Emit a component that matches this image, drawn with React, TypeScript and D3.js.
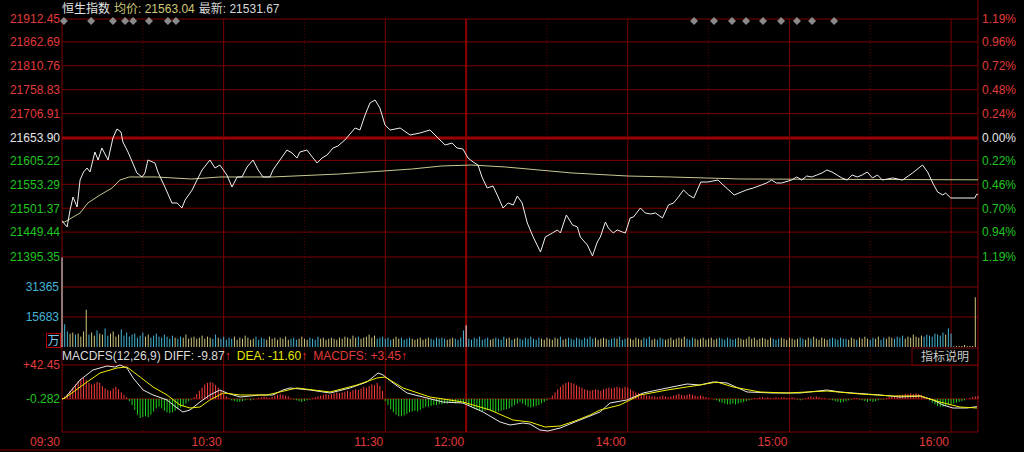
import React from 'react';
import * as d3 from 'd3';

const W = 1024;
const H = 452;

// ---------- axis labels ----------
const priceLabels = [21912.45, 21862.69, 21810.76, 21758.83, 21706.91, 21653.90, 21605.22, 21553.29, 21501.37, 21449.44, 21395.35];
const pctLabels = ['1.19%', '0.96%', '0.72%', '0.48%', '0.24%', '0.00%', '0.22%', '0.46%', '0.70%', '0.94%', '1.19%'];
const prevClose = 21653.90;
const volumeTicks = [31365, 15683];
const macdTicks = [42.45, -0.282];
const macdTickLabels = ['+42.45', '-0.282'];
const timeTicks = [0, 60, 120, 150, 210, 270, 330];
const timeLabels = ['09:30', '10:30', '11:30', '12:00', '14:00', '15:00', '16:00'];
const dottedTicks = [30, 90, 180, 240, 300];
const markerMinutes = [0.7, 10.8, 18.9, 23.4, 26.4, 32.3, 39.3, 42.3, 234.6, 242.0, 248.7, 253.9, 260.2, 266.9, 272.8, 278.4, 286.6];

// ---------- price (minute index from 09:30, 340 = 16:10) ----------
const priceMinutes = [
  0, 1.9, 3, 4.1, 5.6, 6.7, 8, 9.3, 10.4, 12.2, 13.4, 14.8, 17.1, 18.9, 20.4, 21.9, 22.6, 24.5, 27.8, 29.7,
  30.8, 31.9, 34.5, 35.6, 38.2, 40.8, 42.7, 44.5, 45.7, 48.3, 50.1, 52.0, 54.9, 56.8, 58.6, 61.2, 63.1, 65.0, 66.8, 68.7,
  70.9, 72.8, 74.6, 77.2, 78.3, 80.9, 83.5, 85.4, 87.2, 88.3, 90.9, 93.2, 94.7, 96.5, 98.4, 100.6, 102.4, 105.0, 108.8, 110.6,
  112.5, 114.3, 116.2, 118.0, 119.9, 121.8, 125.5, 129.2, 132.9, 136.6, 140.3, 142.2, 144.8, 146.6, 148.8, 150.7, 152.6, 154.4, 155.9, 157.8,
  160.0, 161.9, 163.7, 165.6, 167.5, 169.0, 170.8, 172.7, 174.9, 177.6, 179.4, 182.0, 183.9, 185.0, 187.2, 189.5, 191.3, 192.4, 195.0, 196.9,
  198.7, 199.8, 201.7, 202.8, 204.6, 206.1, 208.0, 209.1, 210.9, 212.1, 214.7, 216.5, 218.4, 220.3, 222.9, 225.1, 227.0, 228.8, 230.7, 232.6,
  234.5, 237.1, 239.7, 243.5, 245.4, 249.5, 252.2, 254.0, 256.6, 259.6, 261.5, 263.4, 265.2, 267.1, 270.8, 272.7, 274.6, 276.4, 278.3, 280.2,
  282.1, 283.9, 285.8, 287.7, 289.5, 291.4, 293.3, 295.2, 297.0, 298.9, 300.8, 302.7, 304.5, 308.3, 312.0, 315.7, 319.4, 321.3, 323.2, 325.0,
  326.9, 328.0, 329.9, 338.8, 339.5, 340
];
const priceValues = [
  21473.6, 21460.6, 21497.5, 21525.7, 21504.0, 21562.6, 21580.0, 21588.7, 21580.0, 21623.5, 21606.1, 21632.2, 21606.1, 21653.9, 21673.5, 21666.9, 21645.2, 21623.5, 21577.9, 21569.2,
  21577.9, 21606.1, 21599.6, 21580.0, 21547.4, 21512.7, 21512.7, 21501.8, 21519.2, 21540.9, 21562.6, 21584.4, 21606.1, 21588.7, 21595.2, 21573.5, 21547.4, 21569.2, 21569.2, 21590.9,
  21606.1, 21584.4, 21569.2, 21569.2, 21584.4, 21606.1, 21627.8, 21621.3, 21610.4, 21623.5, 21627.8, 21610.4, 21599.6, 21610.4, 21617.0, 21632.2, 21636.5, 21649.6, 21675.6, 21671.3,
  21703.9, 21729.9, 21736.5, 21719.1, 21682.1, 21671.3, 21675.6, 21660.4, 21664.8, 21671.3, 21649.6, 21638.7, 21643.0, 21632.2, 21630.0, 21610.4, 21601.8, 21595.2, 21569.2, 21545.3,
  21549.6, 21525.7, 21501.8, 21512.7, 21508.3, 21527.9, 21512.7, 21469.3, 21438.8, 21406.2, 21438.8, 21447.5, 21454.1, 21447.5, 21486.6, 21464.9, 21460.6, 21438.8, 21421.5, 21397.6,
  21428.0, 21438.8, 21471.4, 21458.4, 21447.5, 21454.1, 21449.7, 21447.5, 21480.1, 21482.3, 21501.8, 21491.0, 21488.8, 21491.0, 21480.1, 21508.3, 21512.7, 21525.7, 21540.9, 21530.1,
  21523.5, 21558.3, 21558.3, 21562.6, 21551.8, 21530.1, 21536.6, 21540.9, 21545.3, 21551.8, 21556.1, 21562.6, 21556.1, 21556.1, 21562.6, 21569.2, 21562.6, 21571.3, 21569.2, 21573.5,
  21577.9, 21584.4, 21580.0, 21573.5, 21567.0, 21562.6, 21573.5, 21569.2, 21573.5, 21580.0, 21567.0, 21573.5, 21562.6, 21567.0, 21562.6, 21577.9, 21595.2, 21580.0, 21556.1, 21536.6,
  21530.1, 21534.4, 21523.5, 21523.5, 21531.67, 21531.67
];

// ---------- average price ----------
const avgMinutes = [0, 1, 6.7, 9.6, 14.1, 18.6, 21.5, 25, 35, 48, 58.6, 78, 103, 130, 141, 152, 164.6, 177, 189.3, 210, 226, 239, 252, 340];
const avgValues = [21471.4, 21471.4, 21491.0, 21512.7, 21530.1, 21545.3, 21562.6, 21569.2, 21569.2, 21564.8, 21569.2, 21569.2, 21575.7, 21586.6, 21593.1, 21595.2, 21590.9, 21584.4, 21577.9, 21571.3, 21569.2, 21567.0, 21564.8, 21563.04];

// ---------- volume per minute (万) ----------
const volumes = [
  46800,
  11900, 8110, 7030, 7570, 6490, 7030, 5410, 8110, 19480, 6490,
  7570, 5950, 8660, 7030, 6490, 9740, 5950, 7030, 8110, 5410,
  6490, 9200, 5950, 7570, 5410, 6490, 7030, 4870, 5950, 7570,
  5410, 6490, 4870, 5950, 7030, 5410, 4870, 6490, 5410, 4330,
  5950, 4870, 4330, 5410, 4870, 6490, 4330, 4870, 5410, 4330,
  4870, 5950, 4330, 5410, 4870, 4330, 6490, 4870, 4330, 5410,
  3790, 4870, 4330, 5410, 3790, 4870, 4330, 5950, 4870, 3790,
  4330, 5410, 3790, 4870, 4330, 3790, 5410, 4330, 4870, 3790,
  4870, 4330, 5410, 3790, 4330, 4870, 3790, 4330, 5410, 4330,
  3790, 4870, 4330, 3790, 5410, 4330, 4870, 3790, 4330, 4870,
  4330, 3790, 4870, 4330, 5410, 4870, 4330, 5950, 4870, 5410,
  4330, 4870, 5410, 6490, 4870, 5950, 4330, 4870, 5410, 4330,
  4870, 3790, 4330, 5410, 4330, 4870, 3790, 4330, 4870, 4330,
  3790, 4330, 4870, 3790, 4330, 4870, 4330, 3790, 4870, 4330,
  4870, 4330, 3790, 4330, 4870, 4330, 3790, 4870, 8660, 11360,
  4330, 3790, 4870, 4330, 5410, 3790, 4330, 4870, 3790, 4330,
  4870, 4330, 3790, 5410, 4330, 4870, 3790, 4330, 4870, 4330,
  3790, 4870, 4330, 5410, 4330, 3790, 4870, 4330, 3790, 4870,
  4330, 3790, 4870, 4330, 5410, 3790, 4330, 4870, 4330, 3790,
  4870, 4330, 3790, 4870, 4330, 5410, 4330, 4870, 3790, 4330,
  4870, 4330, 3790, 4330, 4870, 4330, 5410, 3790, 4330, 4870,
  4330, 3790, 4870, 4330, 3790, 4870, 4330, 5410, 3790, 4330,
  3790, 4870, 4330, 3790, 4330, 4870, 3790, 4330, 4870, 4330,
  5410, 4330, 3790, 4870, 4330, 3790, 4330, 4870, 3790, 4330,
  4870, 3790, 4330, 4870, 4330, 3790, 4870, 4330, 3790, 4330,
  4870, 4330, 3790, 4330, 5410, 4330, 4870, 3790, 4330, 4870,
  4330, 3790, 4870, 4330, 3790, 4330, 4870, 4330, 3790, 4870,
  4330, 3790, 4330, 4870, 4330, 3790, 4870, 4330, 5410, 4330,
  3790, 4870, 4330, 3790, 4330, 4870, 4330, 3790, 4870, 4330,
  4330, 3790, 4870, 4330, 3790, 4870, 4330, 5410, 4330, 3790,
  4870, 4330, 5410, 3790, 4870, 4330, 5410, 4870, 4330, 5410,
  4870, 5950, 4330, 5410, 4870, 6490, 5410, 4870, 5950, 5410,
  6490, 5950, 5410, 7030, 6490, 5950, 7570, 6490, 9740, 7030,
  540, 540, 540, 540, 1080, 540, 540, 540, 25970, 0
];

// ---------- MACD ----------
const diffMinutes = [0, 1.1, 6.7, 11.5, 16.7, 19.7, 21.5, 24.1, 26.4, 30.1, 33.8, 39.0, 42.7, 44.9, 47.5, 51.2, 54.9, 58.6, 61.2, 66.1, 73.5, 78.3, 82.0, 84.6, 92.1, 99.5, 106.9, 113.2, 117.3, 119.2, 122.9, 128.1, 134.0, 141.4, 148.8, 156.3, 162.6, 166.3, 171.1, 173.7, 177.4, 180.4, 184.9, 190.4, 196.0, 199.7, 203.4, 209.7, 215.7, 224.6, 232.0, 236.8, 241.6, 246.8, 254.3, 263.9, 273.9, 284.0, 288.8, 293.6, 303.6, 311.1, 318.5, 323.3, 327.0, 330.7, 335.9, 339.6];
const diffValues = [-0.28, 0.97, 23.60, 36.17, 41.20, 39.94, 42.45, 38.69, 26.12, 11.03, 4.75, -1.54, -11.59, -16.62, -14.11, -4.05, 4.75, 11.03, 7.26, 2.23, 4.75, 4.75, 11.03, 13.55, 11.03, 7.26, 13.55, 21.09, 32.40, 29.88, 19.83, 7.26, 2.23, -4.05, -5.31, -16.62, -29.19, -32.96, -30.45, -31.71, -39.25, -40.51, -36.74, -29.19, -21.65, -16.62, -5.31, -1.54, 7.26, 13.55, 18.57, 17.32, 21.09, 19.83, 8.52, 7.26, 7.26, 11.03, 8.52, 7.26, 4.75, 2.23, 3.49, -1.54, -7.82, -11.59, -11.59, -9.87];
const deaMinutes = [0, 1.1, 9.3, 14.1, 20.4, 24.1, 29.0, 33.8, 39.0, 43.8, 47.5, 51.2, 54.9, 59.8, 66.1, 76.1, 87.2, 99.5, 109.5, 116.9, 119.9, 126.6, 136.6, 148.8, 158.9, 167.4, 173.7, 179.3, 184.9, 190.4, 196.0, 199.7, 207.1, 214.6, 224.6, 236.8, 243.1, 249.1, 259.1, 269.1, 284.0, 296.2, 308.5, 318.5, 325.9, 333.3, 339.6];
const deaValues = [-0.28, 0.97, 21.09, 32.40, 38.69, 39.94, 27.37, 14.80, 4.75, -7.82, -11.59, -10.34, -1.54, 7.26, 4.75, 4.75, 13.55, 8.52, 17.32, 26.12, 27.37, 13.55, 2.23, -4.05, -14.11, -26.68, -29.19, -35.48, -34.22, -27.94, -20.39, -14.11, -7.82, 4.75, 11.03, 17.32, 21.09, 14.80, 8.52, 7.26, 9.77, 6.00, 3.49, 3.49, -4.05, -10.34, -11.60];
const macdHist = [
  0, 3, 6, 10, 14, 18, 22, 25, 26, 24,
  20, 18, 19, 21, 20, 16, 13, 11, 10, 13,
  15, 12, 8, 5, 2, -3, -8, -14, -20, -24,
  -23, -22, -23, -20, -16, -12, -10, -12, -15, -17,
  -18, -17, -15, -13, -11, -9, -6, -3, -1, 2,
  6, 10, 14, 18, 20, 21, 20, 17, 14, 10,
  6, 3, 1, -2, -3, -4, -4, -3, -2, -1,
  -2, -1, 0, 1, 2, 3, 2, 1, 2, 4,
  5, 6, 5, 4, 3, 1, -1, -2, -3, -4,
  -3, -2, -1, 1, 2, 3, 4, 5, 6, 5,
  6, 7, 8, 7, 8, 9, 10, 9, 11, 12,
  11, 13, 15, 14, 16, 18, 17, 20, 16, 10,
  -3, -8, -13, -17, -20, -22, -22, -21, -19, -17,
  -16, -15, -16, -14, -12, -10, -10, -9, -8, -8,
  -7, -7, -6, -6, -5, -5, -6, -5, -4, -5,
  -6, -8, -10, -12, -14, -15, -16, -15, -14, -15,
  -16, -17, -16, -15, -14, -13, -12, -10, -8, -6,
  -4, -6, -8, -10, -11, -10, -9, -8, -6, -4,
  -2, 1, 4, 8, 12, 15, 18, 20, 21, 20,
  19, 17, 15, 14, 12, 11, 10, 11, 12, 11,
  10, 12, 13, 14, 13, 14, 15, 14, 13, 15,
  14, 12, 10, 8, 7, 6, 5, 4, 4, 3,
  3, 2, 3, 4, 3, 2, 3, 4, 5, 6,
  5, 4, 5, 6, 5, 4, 3, 4, 3, 2,
  1, 0, -1, -2, -4, -5, -6, -7, -7, -6,
  -7, -6, -5, -4, -3, -2, -1, 1, 1, 2,
  2, 1, 2, 1, 1, 2, 1, 2, 2, 1,
  1, 2, 1, -1, -2, -1, 1, 2, 3, 2,
  3, 2, 1, 1, 0, -1, -2, -3, -4, -5,
  -4, -3, -2, -1, 1, 1, -1, -2, -3, -4,
  -3, -4, -3, -2, -1, -1, 1, 2, 3, 3,
  4, 5, 5, 6, 6, 7, 6, 7, 6, 5,
  3, 1, -2, -5, -7, -9, -10, -10, -9, -8,
  -7, -6, -5, -4, -3, -2, 0, 1, 2, 3,
  3.45
];

// ---------- style ----------
const FONT = "'Liberation Sans', Arial, 'Noto Sans CJK SC', sans-serif";
const C_GRID = '#7c0000';
const C_GRID_DOT = '#5a0000';
const C_RED = '#e03a3a';
const C_GREEN = '#22c422';
const C_WHITE = '#e6e6e6';
const C_CYAN = '#44b4d4';
const C_VOLY = '#cdc47c';

export default function App() {
  const L = 62, R = 978;
  const x = d3.scaleLinear().domain([0, 340]).range([L, R]);
  const yP = d3.scaleLinear().domain([21395.35, 21912.45]).range([257, 19]);
  const yV = d3.scaleLinear().domain([0, 47047]).range([347, 257]);
  const yM = d3.scaleLinear().domain([-41.75, 42.45]).range([432, 365]);

  const pricePts = priceMinutes.map((m, i) => [m, priceValues[i]] as [number, number]);
  const avgPts = avgMinutes.map((m, i) => [m, avgValues[i]] as [number, number]);
  const pLine = d3.line<[number, number]>().x(d => x(d[0])).y(d => yP(d[1]));
  const diffPts = diffMinutes.map((m, i) => [m, diffValues[i]] as [number, number]);
  const deaPts = deaMinutes.map((m, i) => [m, deaValues[i]] as [number, number]);
  const mLine = d3.line<[number, number]>().x(d => x(d[0])).y(d => yM(d[1]));

  const priceAt = d3.scaleLinear().domain(priceMinutes).range(priceValues);

  const labelColor = (i: number) => (i < 5 ? C_RED : i === 5 ? C_WHITE : C_GREEN);

  return (
    <div style={{ position: 'fixed', left: 0, top: 0, width: W, height: H, background: '#000' }}>
      <svg width={W} height={H} style={{ display: 'block', fontFamily: FONT }}>
        <rect x={0} y={0} width={W} height={H} fill="#000" />

        {/* horizontal grid - price */}
        {priceLabels.map((v, i) => (
          <line key={'hp' + i} x1={L} x2={R} y1={yP(v)} y2={yP(v)}
            stroke={v === prevClose ? '#9c0000' : C_GRID} strokeWidth={v === prevClose ? 3 : 1} />
        ))}
        {/* volume grid */}
        {volumeTicks.map((v, i) => (
          <line key={'hv' + i} x1={L} x2={R} y1={yV(v)} y2={yV(v)} stroke={C_GRID} />
        ))}
        {/* macd grid */}
        <line x1={L} x2={R} y1={365} y2={365} stroke={C_GRID} />
        <line x1={L} x2={R} y1={yM(-0.282)} y2={yM(-0.282)} stroke={C_GRID} />
        <line x1={L} x2={R} y1={432} y2={432} stroke={C_GRID} />
        <line x1={0} x2={220} y1={450} y2={450} stroke={C_GRID} />

        {/* vertical grid */}
        {dottedTicks.map((m, i) => (
          <line key={'vd' + i} x1={x(m)} x2={x(m)} y1={19} y2={432} stroke={C_GRID_DOT} strokeDasharray="1 2" />
        ))}
        {timeTicks.slice(1).map((m, i) => (
          <line key={'vs' + i} x1={x(m)} x2={x(m)} y1={19} y2={432} stroke={m === 150 ? '#8c0000' : C_GRID} strokeWidth={m === 150 ? 2 : 1} />
        ))}
        <line x1={L} x2={L} y1={19} y2={432} stroke={C_GRID} />
        <line x1={R} x2={R} y1={0} y2={432} stroke={C_GRID} />

        {/* indicator box */}
        <rect x={912} y={348} width={R - 912} height={17} fill="#000" stroke={C_GRID} />
        <text x={945} y={361} fill="#c8c8c8" fontSize={12} textAnchor="middle" fontFamily="'Noto Sans CJK SC', sans-serif">指标说明</text>

        {/* volume bars */}
        {volumes.map((v, m) => {
          if (v <= 0) return null;
          let col = C_CYAN;
          if (m === 0 || m === 150) col = '#e8e8e8';
          else if (priceAt(m) >= priceAt(m - 1)) col = C_VOLY;
          return <line key={'v' + m} x1={x(m)} x2={x(m)} y1={yV(0)} y2={yV(v)} stroke={col} strokeWidth={1} />;
        })}

        {/* macd histogram */}
        {macdHist.map((v, m) => (
          v === 0 ? null :
            <line key={'h' + m} x1={x(m)} x2={x(m)} y1={yM(0)} y2={yM(v)} stroke={v > 0 ? '#ff3c3c' : '#1ed21e'} strokeWidth={1} />
        ))}
        <path d={mLine(diffPts) || ''} fill="none" stroke="#e8e8e8" strokeWidth={1} />
        <path d={mLine(deaPts) || ''} fill="none" stroke="#f0f000" strokeWidth={1} />

        {/* price lines */}
        <path d={pLine(avgPts) || ''} fill="none" stroke="#c8c890" strokeWidth={1} />
        <path d={pLine(pricePts) || ''} fill="none" stroke="#f0f0f0" strokeWidth={1} />

        {/* markers */}
        {markerMinutes.map((m, i) => (
          <path key={'mk' + i} d={`M${x(m)},${21 - 4}L${x(m) + 4},21L${x(m)},${21 + 4}L${x(m) - 4},21Z`} fill="#8a8a8a" />
        ))}

        {/* left price labels */}
        {priceLabels.map((v, i) => (
          <text key={'lp' + i} x={60} y={yP(v)} dy="0.36em" textAnchor="end" fontSize={12} fill={labelColor(i)}>{v.toFixed(2)}</text>
        ))}
        {/* right pct labels */}
        {priceLabels.map((v, i) => (
          <text key={'rp' + i} x={982} y={yP(v)} dy="0.36em" textAnchor="start" fontSize={12} fill={labelColor(i)}>{pctLabels[i]}</text>
        ))}
        {/* volume labels */}
        {volumeTicks.map((v, i) => (
          <text key={'lv' + i} x={59} y={yV(v)} dy="0.36em" textAnchor="end" fontSize={12} fill={C_CYAN}>{v}</text>
        ))}
        <rect x={46.5} y={333.5} width={14} height={14} fill="none" stroke="#b00000" />
        <text x={53.5} y={345} textAnchor="middle" fontSize={12} fill="#7cc8ec" fontFamily="'Noto Sans CJK SC', sans-serif">万</text>
        {/* macd labels */}
        {macdTicks.map((v, i) => (
          <text key={'lm' + i} x={60} y={yM(v)} dy="0.36em" textAnchor="end" fontSize={12} fill={i === 0 ? C_RED : C_GREEN}>{macdTickLabels[i]}</text>
        ))}
        {/* time labels */}
        {timeTicks.map((m, i) => (
          <text key={'t' + i} x={x(m) - 2} y={446} textAnchor="end" fontSize={12} fill={C_RED}>{timeLabels[i]}</text>
        ))}

        {/* header */}
        <text x={62} y={13} fontSize={12}>
          <tspan fill={C_WHITE} fontFamily="'Noto Sans CJK SC', sans-serif">恒生指数</tspan>
          <tspan fill="#cfc878" dx={4} fontFamily="'Noto Sans CJK SC', sans-serif">均价</tspan>
          <tspan fill="#cfc878">: 21563.04</tspan>
          <tspan fill="#d8d8d8" dx={4} fontFamily="'Noto Sans CJK SC', sans-serif">最新</tspan>
          <tspan fill="#d8d8d8">: 21531.67</tspan>
        </text>

        {/* macd header */}
        <text x={62} y={360} fontSize={12}>
          <tspan fill="#dcdcdc">MACDFS(12,26,9) DIFF: -9.87</tspan>
          <tspan fill="#ff3030">↑</tspan>
          <tspan fill="#e6e600" dx={6}>DEA: -11.60</tspan>
          <tspan fill="#ff3030">↑</tspan>
          <tspan fill="#e03a3a" dx={6}>MACDFS: +3.45</tspan>
          <tspan fill="#ff3030">↑</tspan>
        </text>
      </svg>
    </div>
  );
}
